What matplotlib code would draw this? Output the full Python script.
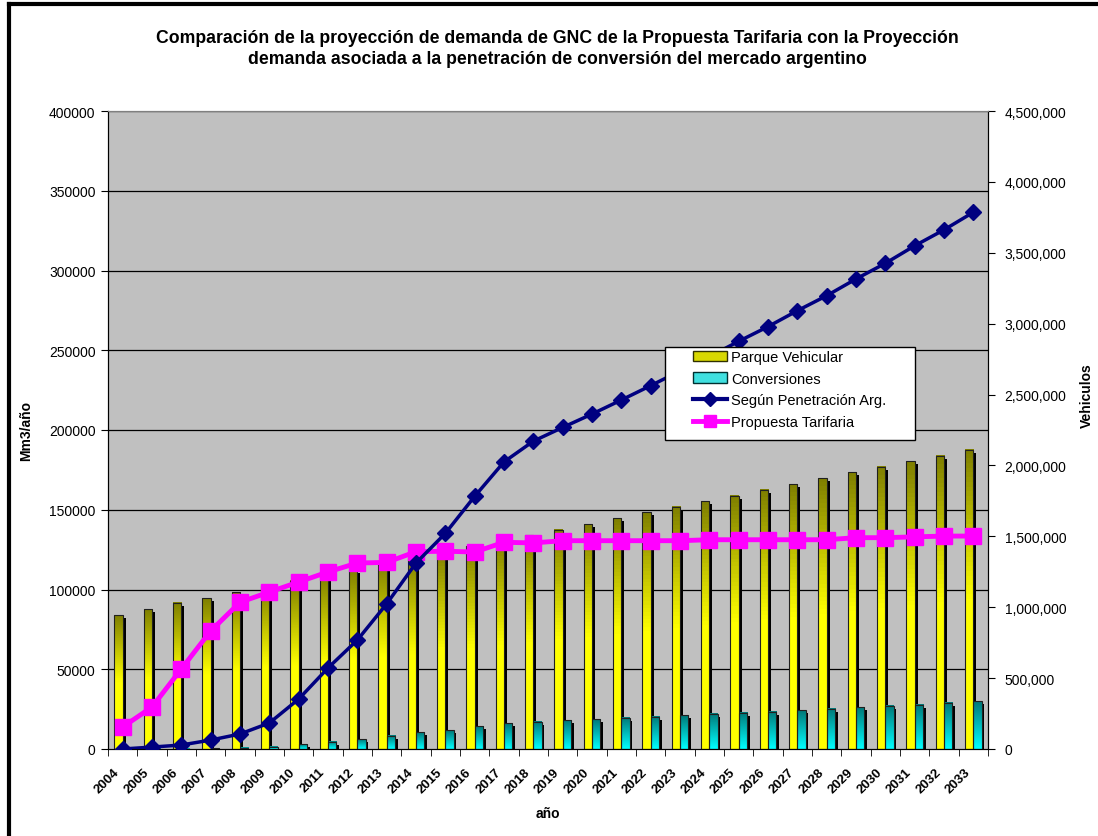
import matplotlib
matplotlib.use("Agg")
import matplotlib.pyplot as plt
import matplotlib.transforms as mtransforms
import numpy as np
from matplotlib.colors import LinearSegmentedColormap
from matplotlib.patches import Patch, Rectangle
from matplotlib.lines import Line2D
from matplotlib.ticker import FuncFormatter

plt.rcParams['font.family'] = ['Liberation Sans', 'DejaVu Sans']

# datos
anios = [str(a) for a in range(2004, 2034)]

parque = [945000, 987000, 1030000, 1065000, 1107000, 1150000, 1185000, 1227000,
          1263000, 1305000, 1345000, 1390000, 1430000, 1470000, 1509000, 1547000,
          1585000, 1629000, 1669000, 1707000, 1747000, 1787000, 1829000, 1867000,
          1909000, 1952000, 1991000, 2029000, 2069000, 2109000]

conversiones = [1000, 2000, 3000, 6000, 9000, 16000, 33000, 52000, 70000, 92000,
                118000, 134000, 160000, 181000, 193000, 202000, 209000, 219000,
                228000, 238000, 247000, 254000, 263000, 275000, 284000, 294000,
                306000, 313000, 327000, 336000]

segun_penetracion = [0, 1200, 2500, 5600, 9400, 16300, 31300, 50800, 68300, 91000,
                     116600, 135200, 158400, 180000, 193000, 201600, 210000, 218800,
                     227800, 237000, 246000, 255600, 264800, 274800, 284200, 294700,
                     304500, 315500, 325500, 336500]

propuesta = [13800, 26300, 50200, 74000, 92000, 98400, 104700, 111000, 116600, 117000,
             123700, 124000, 123500, 129600, 129200, 130600, 130600, 130600, 130600,
             130600, 131200, 131200, 131200, 131200, 131200, 132500, 132500, 133000,
             133500, 133500]

left_max = 400000
right_max = 4500000

fig = plt.figure(figsize=(10.98, 8.37), dpi=100)
ax = fig.add_axes([108/1098, 1-750/837, 880/1098, 638/837])
ax2 = ax.twinx()

# ax (lineas) arriba, ax2 (barras) abajo con el fondo gris
ax.set_zorder(2)
ax.patch.set_visible(False)
ax2.set_zorder(1)
ax2.patch.set_visible(True)
ax2.set_facecolor('#C0C0C0')

x = np.arange(len(anios))
w = 0.28
dx = 0.1
dy = right_max * 3 / 638

cm_parque = LinearSegmentedColormap.from_list('parque', ['#FFFF00', '#FFFF00', '#808000'])
cm_conv = LinearSegmentedColormap.from_list('conv', ['#00FFFF', '#007878'])
grad = np.linspace(0, 1, 64).reshape(-1, 1)

# lineas de grilla (en la escala del eje izquierdo)
left_ticks = np.arange(0, left_max + 1, 50000)
ax2.hlines(left_ticks[1:] * right_max / left_max, -0.5, len(anios) - 0.5,
           color='black', lw=0.9, zorder=0.5)

for serie, off, cmap in [(parque, -w/2, cm_parque), (conversiones, w/2, cm_conv)]:
    xs = x + off
    vals = np.array(serie)
    # sombra
    ax2.bar(xs + dx, np.maximum(vals - dy, 0), w, color='black', zorder=1)
    for xi, v in zip(xs, vals):
        ax2.imshow(grad, extent=[xi - w/2, xi + w/2, 0, v], origin='lower',
                   aspect='auto', cmap=cmap, zorder=2)
    ax2.bar(xs, vals, w, fill=False, edgecolor='#202020', lw=0.8, zorder=3)

ax2.set_ylim(0, right_max)
ax2.set_xlim(-0.5, len(anios) - 0.5)

ax.plot(x, propuesta, color='#FF00FF', lw=3.5, marker='s', markersize=11.5, zorder=3)
ax.plot(x, segun_penetracion, color='#000080', lw=2.5, marker='D', markersize=8, zorder=4)
ax.set_ylim(0, left_max)
ax.set_xlim(-0.5, len(anios) - 0.5)

# ejes y ticks
ax.set_yticks(left_ticks)
ax.tick_params(axis='y', direction='out', length=5, labelsize=10, pad=4)
ax2.set_yticks(np.arange(0, right_max + 1, 500000))
ax2.yaxis.set_major_formatter(FuncFormatter(lambda v, p: f'{int(v):,}'))
ax2.tick_params(axis='y', direction='out', length=5, labelsize=10, pad=7)

ax.set_xticks(x)
ax.set_xticklabels(anios, rotation=45, ha='right', va='center',
                   rotation_mode='anchor', fontsize=9.5, fontweight='bold')
ax.tick_params(axis='x', which='major', length=0, pad=15)
shift = mtransforms.ScaledTranslation(-5/100, 0, fig.dpi_scale_trans)
for lbl in ax.get_xticklabels():
    lbl.set_transform(lbl.get_transform() + shift)
ax.set_xticks(np.arange(-0.5, len(anios)), minor=True)
ax.tick_params(axis='x', which='minor', direction='out', length=5)
ax2.tick_params(axis='x', which='both', length=0, labelbottom=False)

for a in (ax, ax2):
    a.spines['top'].set_color('#808080')
    a.spines['left'].set_color('black')
    a.spines['right'].set_color('black')
    a.spines['bottom'].set_color('black')

ax.set_xlabel('año', fontsize=10, fontweight='bold')
ax.xaxis.set_label_coords(0.5, -0.09)
ax.set_ylabel('Mm3/año', fontsize=10, fontweight='bold')
ax.yaxis.set_label_coords(-0.085, 0.5)
ax2.set_ylabel('Vehiculos', fontsize=10, fontweight='bold')
ax2.yaxis.set_label_coords(1.105, 0.556)

fig.text(0.508, 1 - 49/837,
         'Comparación de la proyección de demanda de GNC de la Propuesta Tarifaria con la Proyección\n'
         'demanda asociada a la penetración de conversión del mercado argentino',
         ha='center', va='center', fontsize=12.7, fontweight='bold', linespacing=1.35)

# leyenda con marco propio
fig.add_artist(Rectangle((665/1098, 1 - 441/837), 250/1098, 93/837,
                         transform=fig.transFigure, facecolor='white',
                         edgecolor='black', lw=1, zorder=4))
handles = [
    Patch(facecolor='#D8D800', edgecolor='#303000', lw=1),
    Patch(facecolor='#40E0E0', edgecolor='#003030', lw=1),
    Line2D([], [], color='#000080', lw=3, marker='D', markersize=7),
    Line2D([], [], color='#FF00FF', lw=3.5, marker='s', markersize=8),
]
labels = ['Parque Vehicular', 'Conversiones', 'Según Penetración Arg.', 'Propuesta Tarifaria']
leg = fig.legend(handles, labels, loc='upper left', bbox_to_anchor=(693/1098, 1 - 351/837),
                 frameon=False, borderpad=0, borderaxespad=0, handlelength=2.3,
                 handletextpad=0.3, labelspacing=0.52, fontsize=10.5, numpoints=1)
leg.set_zorder(5)

# borde del area del grafico
fig.add_artist(Line2D([9/1098, 9/1098], [0, 1 - 4.5/837], transform=fig.transFigure,
                      color='black', lw=3))
fig.add_artist(Line2D([9/1098, 1], [1 - 4.5/837, 1 - 4.5/837], transform=fig.transFigure,
                      color='black', lw=3))

fig.savefig('out.png', dpi=100)
